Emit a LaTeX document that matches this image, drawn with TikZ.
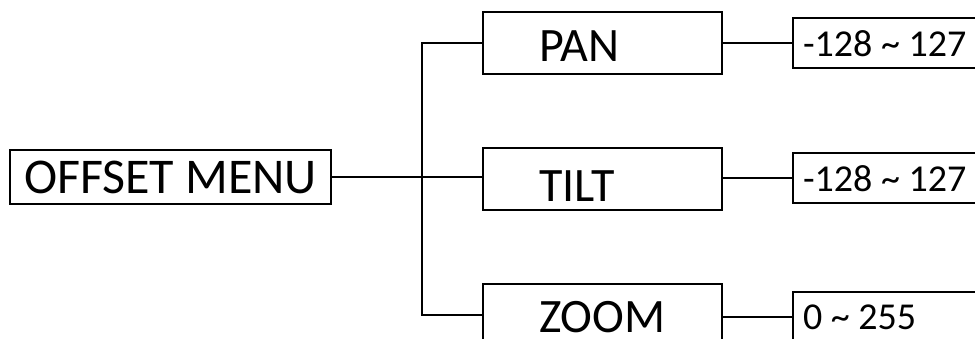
\documentclass[tikz,border=0pt]{standalone}
\usepackage{fontspec}
\setmainfont{Carlito}
\begin{document}
\begin{tikzpicture}[x=1pt,y=-1pt,line width=2pt,
  menubox/.style={draw,inner sep=0pt,minimum width=321pt,minimum height=54pt,font=\fontsize{50}{58}\selectfont},
  itembox/.style={draw,inner sep=0pt,minimum width=239pt,minimum height=62pt},
  valbox/.style={draw,inner sep=0pt,minimum width=220pt,minimum height=50pt},
  itemtxt/.style={anchor=base west,inner sep=0pt,font=\fontsize{48}{56}\selectfont},
  valtxt/.style={anchor=base west,inner sep=0pt,font=\fontsize{38}{44}\selectfont}]
\useasboundingbox (0,0) rectangle (975,339);
\clip (0,0) rectangle (975,339);

\node[menubox] (menu) at (170.5,177) {OFFSET MENU};
\coordinate (fork) at (422,177);

% sub menus and their ranges
\foreach \n/\txt/\y/\base/\vy/\vbase/\val in {
  pan/PAN/43.5/62/43/57/{-128 \char`\~{} 127},
  tilt/TILT/179/202/178/192/{-128 \char`\~{} 127},
  zoom/ZOOM/315/332/317/330/{0 \char`\~{} 255}}
{
  \node[itembox] (\n) at (602.5,\y) {};
  \node[itemtxt] (\n txt) at (538,\base) {\txt};
  \node[valbox] (\n val) at (903,\vy) {};
  \node[valtxt] (\n valtxt) at (802,\vbase) {\val};
  \draw (\n val.west -| \n.east) -- (\n val.west);
}

\draw (menu.east) -- (menu.east -| tilt.west);
\draw (pan.west) -| (fork) |- (zoom.west);
\end{tikzpicture}
\end{document}
